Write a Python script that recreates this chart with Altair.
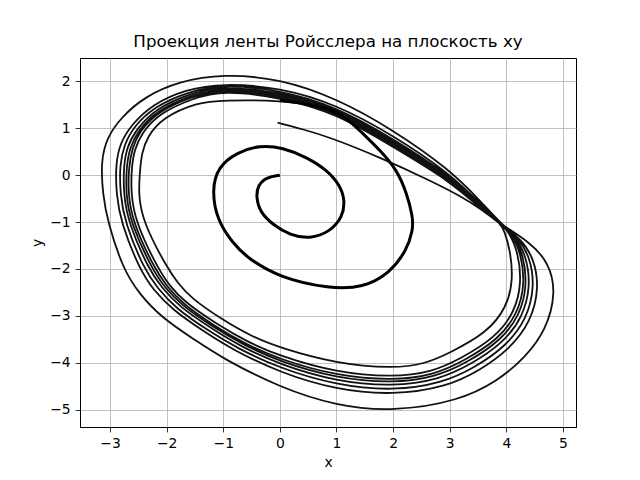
import altair as alt
import pandas as pd

# ---- inner spiral (first two turns) up to where the first big loop begins ----
spiral_x = [0.00, -0.23, -0.39, -0.42, -0.35, -0.12, 0.18, 0.53, 0.88, 1.11, 1.15, 1.06,
            0.83, 0.48, 0.05, -0.35, -0.76, -1.10, -1.20, -1.11, -0.83, -0.58, 0.00, 0.88,
            1.47, 1.94, 2.24, 2.35, 2.35, 2.24, 2.07, 1.77, 1.47, 1.18, 0.88, 0.00]
spiral_y = [0.00, -0.04, -0.21, -0.47, -0.79, -1.06, -1.28, -1.36, -1.21, -0.89, -0.53, -0.21,
            0.11, 0.38, 0.59, 0.64, 0.49, 0.17, -0.32, -0.96, -1.45, -1.76, -2.19, -2.42,
            -2.40, -2.09, -1.60, -1.17, -0.89, -0.38, 0.11, 0.53, 0.89, 1.21, 1.45, 1.60]

# ---- big loops read at stations; list index = loop size rank 1..8 (inner -> outer) ----
# top of the loop (x = -1) and the upper-left quarter
top_y = [1.60, 1.81, 1.84, 1.87, 1.90, 1.93, 1.96, 2.16]
tl1_x = [-1.47, -1.54, -1.56, -1.58, -1.60, -1.63, -1.67, -1.79]
tl1_y = [1.55, 1.64, 1.68, 1.70, 1.74, 1.78, 1.83, 2.00]
tl2_x = [-2.07, -2.13, -2.15, -2.17, -2.19, -2.22, -2.25, -2.38]
tl2_y = [1.23, 1.32, 1.36, 1.38, 1.42, 1.46, 1.51, 1.68]
tl3_x = [-2.35, -2.44, -2.48, -2.50, -2.53, -2.58, -2.62, -2.80]
tl3_y = [0.81, 0.90, 0.94, 0.96, 0.99, 1.04, 1.08, 1.24]
tl35_x = [-2.44, -2.57, -2.61, -2.65, -2.70, -2.75, -2.82, -3.05]
tl35_y = [0.46, 0.54, 0.57, 0.59, 0.61, 0.65, 0.69, 0.81]
tl4_x = [-2.47, -2.62, -2.67, -2.71, -2.76, -2.83, -2.90, -3.16]
tl4_y = [0.11, 0.16, 0.17, 0.19, 0.20, 0.22, 0.25, 0.32]
# left side (x at fixed y)
left_x_ym04 = [-2.50, -2.63, -2.68, -2.72, -2.76, -2.82, -2.89, -3.13]
left_x_ym1 = [-2.42, -2.55, -2.60, -2.64, -2.68, -2.74, -2.81, -3.04]
left_x_ym2 = [-1.98, -2.15, -2.21, -2.26, -2.32, -2.40, -2.48, -2.77]
# lower-left quarter
ll1_x = [-1.80, -1.95, -2.00, -2.04, -2.09, -2.16, -2.24, -2.49]
ll1_y = [-2.30, -2.35, -2.36, -2.38, -2.39, -2.41, -2.44, -2.52]
ll2_x = [-1.59, -1.70, -1.73, -1.76, -1.80, -1.85, -1.90, -2.09]
ll2_y = [-2.60, -2.69, -2.73, -2.75, -2.78, -2.83, -2.87, -3.04]
ll3_x = [-1.01, -1.11, -1.15, -1.18, -1.21, -1.26, -1.31, -1.48]
ll3_y = [-3.09, -3.18, -3.22, -3.24, -3.27, -3.32, -3.36, -3.53]
ll4_x = [-0.48, -0.60, -0.64, -0.67, -0.71, -0.77, -0.82, -1.02]
ll4_y = [-3.45, -3.54, -3.58, -3.60, -3.64, -3.68, -3.73, -3.90]
# bottom (y at fixed x)
bot_y_x0 = [-3.68, -3.86, -3.93, -3.98, -4.04, -4.12, -4.21, -4.53]
bot_y_x1 = [-4.02, -4.21, -4.28, -4.33, -4.40, -4.48, -4.58, -4.92]
bot_y_x2 = [-4.12, -4.31, -4.38, -4.44, -4.51, -4.60, -4.69, -5.04]
# lower-right quarter and right side
lr1_x = [2.55, 2.68, 2.72, 2.76, 2.81, 2.86, 2.93, 3.15]
lr1_y = [-4.03, -4.20, -4.26, -4.30, -4.36, -4.44, -4.52, -4.82]
lr2_x = [3.00, 3.18, 3.25, 3.30, 3.37, 3.45, 3.54, 3.86]
lr2_y = [-3.79, -3.92, -3.96, -4.00, -4.04, -4.10, -4.16, -4.38]
lr3_x = [3.66, 3.80, 3.85, 3.89, 3.94, 4.00, 4.07, 4.33]
lr3_y = [-3.36, -3.47, -3.51, -3.54, -3.58, -3.64, -3.69, -3.89]
lr4_x = [4.01, 4.15, 4.20, 4.24, 4.29, 4.36, 4.43, 4.70]
lr4_y = [-2.81, -2.92, -2.96, -2.99, -3.03, -3.07, -3.13, -3.31]
rt1_x = [4.12, 4.27, 4.33, 4.37, 4.43, 4.50, 4.58, 4.88]
rt1_y = [-2.23, -2.29, -2.31, -2.33, -2.35, -2.38, -2.41, -2.50]
rt2_x = [4.07, 4.21, 4.26, 4.30, 4.35, 4.42, 4.49, 4.75]
rt2_y = [-1.60, -1.66, -1.68, -1.70, -1.72, -1.75, -1.78, -1.87]
merge_x = [3.96, 4.06, 4.10, 4.13, 4.16, 4.21, 4.26, 4.44]
merge_y = [-1.18, -1.24, -1.26, -1.28, -1.30, -1.33, -1.36, -1.45]
# funnel band and upper-right arc towards the top (rank 1 arc comes from the spiral)
band_x = [3.92, 3.55]
band_y_u = -1.06
band_y_v = [-0.72, -0.72, -0.70, -0.68, -0.66, -0.64, -0.62, -0.56]
arc_y_x3 = [0.00, -0.12, -0.09, -0.06, -0.03, 0.00, 0.04, 0.12]
arc_y_x2 = [0.00, 0.60, 0.65, 0.70, 0.74, 0.78, 0.85, 0.97]
arc_y_x1 = [0.00, 1.32, 1.36, 1.40, 1.43, 1.46, 1.51, 1.64]
arc_y_x0 = [0.00, 1.66, 1.70, 1.74, 1.78, 1.82, 1.87, 2.06]

# last segment, leaving the funnel and ending near (0, 1.1)
final_x = [3.20, 2.65, 1.77, 0.88, 0.41, -0.04]
final_y = [-0.45, -0.11, 0.38, 0.81, 0.98, 1.12]

loop_order = [1, 4, 7, 8, 2, 5, 6, 3]

# ---- assemble the path ----
inner = pd.DataFrame({"x": spiral_x, "y": spiral_y, "i": list(range(len(spiral_x)))})

ox, oy = [spiral_x[-2], spiral_x[-1]], [spiral_y[-2], spiral_y[-1]]
for n, r in enumerate(loop_order):
    k = r - 1
    if n > 0:
        ox += band_x + [3.0, 2.0, 1.0, 0.0]
        oy += [band_y_u, band_y_v[k], arc_y_x3[k], arc_y_x2[k], arc_y_x1[k], arc_y_x0[k]]
    ox += [-1.0, tl1_x[k], tl2_x[k], tl3_x[k], tl35_x[k], tl4_x[k],
           left_x_ym04[k], left_x_ym1[k], left_x_ym2[k],
           ll1_x[k], ll2_x[k], ll3_x[k], ll4_x[k], 0.0, 1.0, 2.0,
           lr1_x[k], lr2_x[k], lr3_x[k], lr4_x[k], rt1_x[k], rt2_x[k], merge_x[k]]
    oy += [top_y[k], tl1_y[k], tl2_y[k], tl3_y[k], tl35_y[k], tl4_y[k],
           -0.4, -1.0, -2.0,
           ll1_y[k], ll2_y[k], ll3_y[k], ll4_y[k], bot_y_x0[k], bot_y_x1[k], bot_y_x2[k],
           lr1_y[k], lr2_y[k], lr3_y[k], lr4_y[k], rt1_y[k], rt2_y[k], merge_y[k]]
ox += band_x + final_x
oy += [band_y_u, band_y_v[0]] + final_y
outer = pd.DataFrame({"x": ox, "y": oy, "i": list(range(len(ox)))})

xscale = alt.Scale(domain=[-3.53, 5.23], nice=False, zero=False)
yscale = alt.Scale(domain=[-5.37, 2.50], nice=False, zero=False)

xaxis = alt.Axis(values=[-3, -2, -1, 0, 1, 2, 3, 4, 5], format="d", title="x", grid=True)
yaxis = alt.Axis(values=[-5, -4, -3, -2, -1, 0, 1, 2], format="d", title="y", grid=True)

outer_line = alt.Chart(outer).mark_line(
    color="#111111", strokeWidth=1.8, interpolate="basis", clip=True
).encode(
    x=alt.X("x:Q", scale=xscale, axis=xaxis),
    y=alt.Y("y:Q", scale=yscale, axis=yaxis),
    order="i:Q",
)

inner_line = alt.Chart(inner).mark_line(
    color="black", strokeWidth=3, interpolate="basis", clip=True
).encode(
    x=alt.X("x:Q", scale=xscale),
    y=alt.Y("y:Q", scale=yscale),
    order="i:Q",
)

chart = alt.layer(outer_line, inner_line).properties(
    width=496,
    height=369,
    padding={"left": 80, "top": 58, "right": 64, "bottom": 53},
    autosize="none",
    title=alt.TitleParams(
        "Проекция ленты Ройсслера на плоскость xy",
        font="DejaVu Sans", fontSize=16.7, fontWeight="normal", color="black",
        anchor="middle", frame="group", offset=7,
    ),
).configure_view(
    stroke="black", strokeWidth=1
).configure_axis(
    labelFont="DejaVu Sans", labelFontSize=13.9, labelColor="black",
    titleFont="DejaVu Sans", titleFontSize=13.9, titleFontWeight="normal", titleColor="black",
    tickColor="black", tickSize=4.9, tickWidth=0.8, labelPadding=4.9,
    domainColor="black", domainWidth=1,
    gridColor="#b0b0b0", gridWidth=0.8, titlePadding=5,
)

chart.save("out.html", embed_options={"renderer": "svg", "actions": False})
